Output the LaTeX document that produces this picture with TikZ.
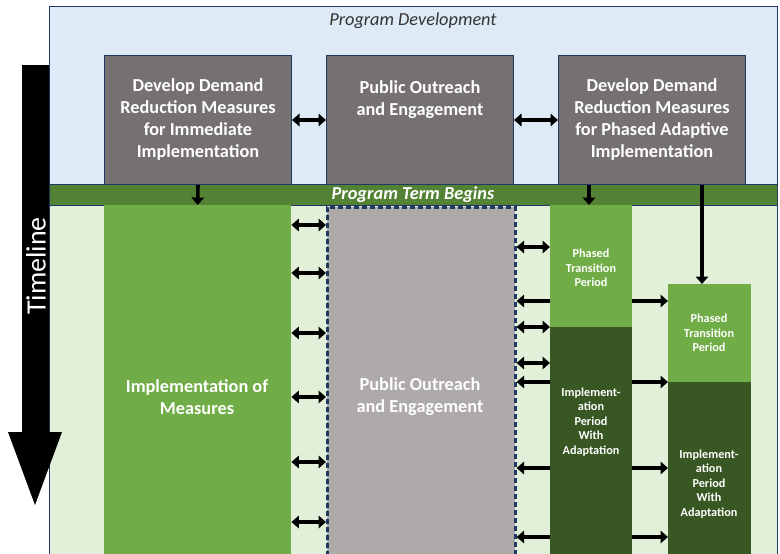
\documentclass[tikz,border=0pt]{standalone}
\usepackage{fontspec}
\setmainfont{Carlito}
\usetikzlibrary{arrows.meta}
\definecolor{lblue}{HTML}{DEEBF7}
\definecolor{navy}{HTML}{1F3864}
\definecolor{gbox}{HTML}{767171}
\definecolor{dgbar}{HTML}{548235}
\definecolor{lgreen}{HTML}{E2F0D9}
\definecolor{mgreen}{HTML}{70AD47}
\definecolor{lgray}{HTML}{AEAAAA}
\definecolor{dgreen}{HTML}{385723}
\tikzset{
  topbox/.style={draw=navy, line width=1pt, fill=gbox, text=white, anchor=north west, inner sep=0pt,
    minimum width=187, minimum height=129, align=center, font=\fontsize{18.3}{22}\selectfont\bfseries},
  colbox/.style={anchor=north west, inner sep=0pt},
  bigtxt/.style={text=white, align=center, font=\fontsize{18.3}{22}\selectfont\bfseries},
  smalltxt/.style={text=white, align=center, font=\fontsize{12.2}{14.5}\selectfont\bfseries},
  dbl/.style={line width=3.6pt, {Triangle[length=7.5pt,width=12.5pt]}-{Triangle[length=7.5pt,width=12.5pt]}},
  sgl/.style={line width=3.6pt, -{Triangle[length=7.5pt,width=12.5pt]}},
}
\begin{document}
\begin{tikzpicture}[x=1pt,y=-1pt]
\useasboundingbox (0,0) rectangle (780,554);
% backgrounds
\node[colbox, draw=navy, line width=0.8pt, fill=lgreen, minimum width=728, minimum height=352] (lower) at (49,205) {};
\node[colbox, draw=navy, line width=1pt, fill=lblue, minimum width=728, minimum height=178] (upper) at (49,6) {};
\node[font=\fontsize{18.3}{22}\selectfont\itshape, text=black!80] (pdtitle) at (413,21) {Program Development};
\node[colbox, draw=navy, line width=0.8pt, fill=dgbar, minimum width=728, minimum height=21] (bar) at (49,184) {};
\node[font=\fontsize{18.3}{22}\selectfont\bfseries\itshape, text=white] (bartext) at (413,195) {Program Term Begins};
% timeline arrow
\fill[black] (22,65) -- (49,65) -- (49,432) -- (62,432) -- (35,505) -- (8,432) -- (22,432) -- cycle;
\node[rotate=90, text=white, font=\fontsize{28}{30}\selectfont] (tl) at (36,266) {Timeline};
% top boxes
\node[topbox] (b1) at (104,55) {Develop Demand\\Reduction Measures\\for Immediate\\Implementation};
\node[topbox] (b2) at (326,55) {Public Outreach\\and Engagement\\[22pt]};
\node[topbox] (b3) at (558,55) {Develop Demand\\Reduction Measures\\for Phased Adaptive\\Implementation};
\draw[dbl] (b1.east |- 0,120) -- (b2.west |- 0,120);
\draw[dbl] (b2.east |- 0,120) -- (b3.west |- 0,120);
% lower columns
\node[colbox, fill=mgreen, minimum width=187, minimum height=350] (impl) at (104,205) {};
\node[bigtxt] (impltxt) at (197,397) {Implementation of\\Measures};
\node[colbox, fill=lgray, draw=navy, dash pattern=on 5pt off 3pt, line width=2.6pt, minimum width=188, minimum height=360] (pub) at (326,206) {};
\node[bigtxt] (pubtxt) at (420,397) {Public Outreach\\and Engagement};
% column 1
\node[colbox, fill=mgreen, minimum width=82, minimum height=122] (p1) at (550,205) {};
\node[colbox, fill=dgreen, minimum width=82, minimum height=227] (a1) at (550,327) {};
\node[smalltxt] (p1t) at (591,268) {Phased\\Transition\\Period};
\node[smalltxt] (a1t) at (591,422) {Implement-\\ation\\Period\\With\\Adaptation};
% column 2
\node[colbox, fill=mgreen, minimum width=83, minimum height=98] (p2) at (668,284) {};
\node[colbox, fill=dgreen, minimum width=83, minimum height=172] (a2) at (668,382) {};
\node[smalltxt] (p2t) at (709,333) {Phased\\Transition\\Period};
\node[smalltxt] (a2t) at (709,484) {Implement-\\ation\\Period\\With\\Adaptation};
% down arrows
\draw[sgl] (b1.south) -- (impl.north);
\draw[sgl] (b3.south -| 589,0) -- (p1.north -| 589,0);
\draw[sgl] (b3.south -| 702,0) -- (p2.north -| 702,0);
% arrows between implementation and public outreach
\foreach \yy in {225,273,333,397,462,522}
  \draw[dbl] (impl.east |- 0,\yy) -- (pub.west |- 0,\yy);
% arrows right of public outreach
\foreach \yy in {247,327,363}
  \draw[dbl] (pub.east |- 0,\yy) -- (p1.west |- 0,\yy);
\foreach \yy in {301,382,468,537}
  \draw[sgl] (p1.west |- 0,\yy) -- (pub.east |- 0,\yy);
\foreach \yy in {301,382,468,537}
  \draw[sgl] (p1.east |- 0,\yy) -- (p2.west |- 0,\yy);
\end{tikzpicture}
\end{document}
